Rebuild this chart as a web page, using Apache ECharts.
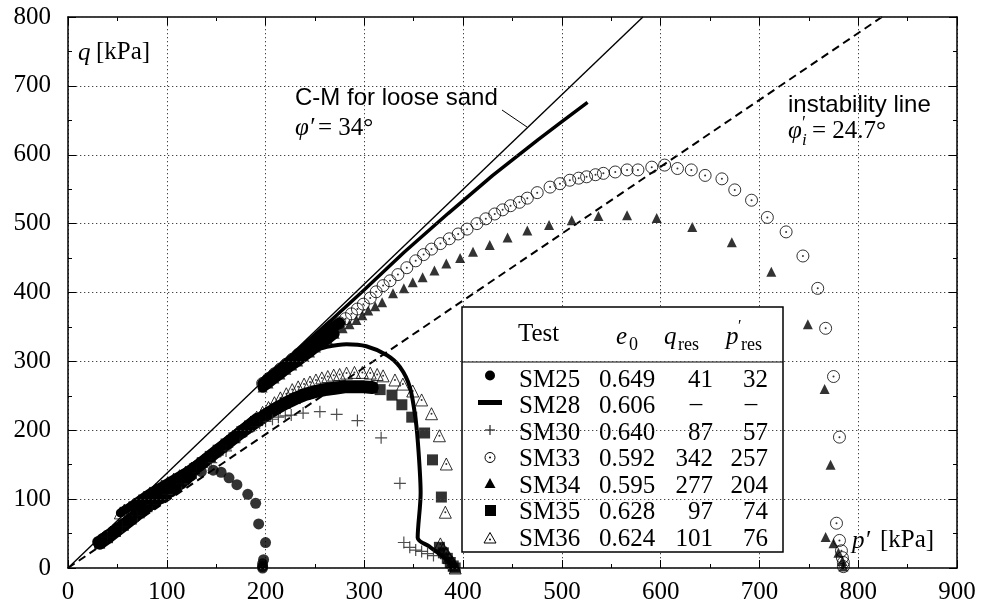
<!DOCTYPE html>
<html><head><meta charset="utf-8">
<script src="https://cdn.jsdelivr.net/npm/echarts@6/dist/echarts.min.js"></script>
<style>html,body{margin:0;padding:0;background:#fff}#c{width:981px;height:612px}</style>
</head><body><div id="c"></div><script>
// ---------------- data (p' [kPa], q [kPa]) ----------------
const xTickLabels = [0,100,200,300,400,500,600,700,800,900];
const yTickLabels = [0,100,200,300,400,500,600,700,800];
const tickStep = 100;
const cmLine   = [[0,0],[582,800]];      // C-M line, phi' = 34 deg
const instLine = [[0,0],[824,800]];      // instability line, phi_i' = 24.7 deg

// each test: measured points; the first `...dense` points overlap into a solid band in the figure
const SM25 = [[30,38],[35,43],[40,48],[45,53],[50,58],[56,64],[60,68],[65,73],[70,78],[75,83],[80,88],[85,92],[90,97],[95,101],[100,106],[105,111],[110,117],[115,122],[120,128],[125,134],[135,140],[147,142],[155,139],[163,131],[171,121],[182,107],[190,94],[193,64],[200,37],[198,12],[197,6],[197,2],[197,0]];
const SM25dense = 20;
const SM28 = [[197,270],[215,290],[230,303],[245,313],[262,321],[282,325],[302,322],[323,309],[336,292],[346,263],[352,215],[355,167],[357,109],[354,44],[366,31],[380,16],[393,0]];
const SM28b = [[197,270],[230,313],[265,358],[300,404],[340,458],[385,515],[430,570],[476,622],[500,648],[526,676]];
const SM30 = [[40,45],[55,60],[70,76],[85,92],[100,107],[115,122],[130,138],[145,153],[160,170],[174,190],[187,205],[194,210],[200,213],[207,216],[213,219],[220,221],[226,222],[238,225],[255,227],[272,223],[293,214],[317,189],[336,123],[340,37],[346,30],[352,26],[358,24],[364,21],[370,18]];
const SM33 = [[197,268],[203,275],[209,282],[215,289],[221,296],[227,303],[233,310],[239,316],[245,323],[251,330],[257,336],[263,343],[269,350],[275,356],[281,362],[287,369],[293,376],[299,383],[306,392],[312,401],[319,410],[326,417],[334,426],[343,436],[352,446],[360,455],[368,463],[377,471],[386,478],[395,485],[404,492],[414,500],[423,507],[432,514],[440,520],[448,526],[457,531],[465,537],[475,545],[488,553],[498,558],[508,563],[517,566],[525,568],[534,571],[542,573],[554,575],[566,578],[577,578],[591,582],[604,585],[617,580],[631,578],[645,570],[662,565],[675,549],[692,534],[708,509],[727,488],[744,453],[759,406],[767,348],[775,278],[781,190],[778,65],[781,40],[783,25],[784,15],[785,8],[785,2]];
const SM33dense = 14;
const SM34 = [[197,262],[203,268],[209,275],[215,281],[221,288],[227,294],[233,300],[239,307],[245,313],[251,320],[257,326],[263,332],[270,340],[278,348],[285,354],[292,360],[298,367],[304,374],[311,380],[318,386],[329,399],[340,406],[349,415],[359,422],[371,432],[383,442],[397,450],[410,459],[427,469],[445,480],[465,490],[487,498],[510,505],[537,511],[566,512],[596,508],[632,495],[672,473],[712,430],[749,354],[766,260],[772,150],[767,45],[775,36],[780,22],[784,10],[785,2]];
const SM34dense = 13;
const SM35 = [[32,36],[40,44],[48,53],[56,62],[64,71],[72,80],[80,89],[88,98],[96,107],[104,116],[112,126],[120,135],[128,144],[136,153],[144,162],[152,171],[160,180],[168,189],[176,198],[184,206],[192,214],[200,222],[210,231],[220,239],[230,246],[240,252],[250,256],[260,259],[270,261],[280,263],[290,263],[300,263],[308,262],[316,259],[328,251],[338,237],[348,219],[361,196],[369,157],[378,103],[376,30],[380,22],[384,14],[387,8],[390,3],[392,0]];
const SM35dense = 33;
const SM36 = [[53,80],[57,84],[62,88],[67,93],[72,98],[77,103],[83,109],[89,114],[95,119],[101,124],[107,129],[113,134],[119,139],[125,145],[131,151],[137,157],[143,163],[149,170],[155,177],[161,184],[167,191],[173,198],[179,205],[185,212],[191,219],[197,226],[203,233],[209,240],[215,247],[221,253],[227,259],[233,263],[239,267],[245,270],[251,273],[257,276],[263,278],[269,280],[275,281],[282,283],[290,284],[298,284],[306,283],[313,281],[319,279],[331,273],[339,267],[349,257],[358,244],[368,224],[376,192],[383,151],[382,81],[377,35],[380,28],[383,22],[386,15],[389,9],[391,4],[392,0]];
const SM36dense = 25;

// legend table content
const tableRows = [
  ['SM25','0.649','41','32'],
  ['SM28','0.606','–','–'],
  ['SM30','0.640','87','57'],
  ['SM33','0.592','342','257'],
  ['SM34','0.595','277','204'],
  ['SM35','0.628','97','74'],
  ['SM36','0.624','101','76']
];

// ---------------- chart ----------------
const SERIF = '"Liberation Serif", "DejaVu Serif", serif';
const SANS = '"Liberation Sans", Arial, sans-serif';
const chart = echarts.init(document.getElementById('c'), null, {renderer:'canvas'});
const xMax = xTickLabels[xTickLabels.length - 1], yMax = yTickLabels[yTickLabels.length - 1];

function axisCommon(showGrid) {
  return {
    type:'value', min:0, interval:tickStep,
    axisLine:{show:true, onZero:false, lineStyle:{color:'#000', width:1.5}},
    axisTick:{show:true, inside:true, length:8, lineStyle:{color:'#000', width:1}},
    minorTick:{show:true, splitNumber:2, length:4, lineStyle:{color:'#000', width:1}},
    axisLabel:{show:false},
    splitLine:{show:showGrid, lineStyle:{color:'#444', width:1, type:[1.3,2.7]}},
    minorSplitLine:{show:false}
  };
}
const xa0 = Object.assign(axisCommon(true), {max:xMax, position:'bottom', z:1});
const xa1 = Object.assign(axisCommon(false), {max:xMax, position:'top', z:1});
const ya0 = Object.assign(axisCommon(true), {max:yMax, position:'left', z:200});
const ya1 = Object.assign(axisCommon(false), {max:yMax, position:'right', z:200});

function scat(name, data, symbol, size, style, z) {
  return {name, type:'scatter', data, symbol, symbolSize:size, itemStyle:style, z:z||3, silent:true, animation:false};
}
function band(data, width, z) {
  return {type:'line', data, showSymbol:false, lineStyle:{color:'#000', width, cap:'round', join:'round'}, z:z||3, silent:true, animation:false};
}
function dots(data, z) {
  return {type:'scatter', data, symbol:'circle', symbolSize:2, itemStyle:{color:'#000'}, z:z||3, silent:true, animation:false};
}
const crossPath = 'path://M0,5L10,5M5,0L5,10';

const series = [
  {type:'line', data:cmLine, showSymbol:false, lineStyle:{color:'#000', width:1.4}, z:2, animation:false, silent:true},
  {type:'line', data:instLine, showSymbol:false, lineStyle:{color:'#000', width:2, type:[8,5]}, z:2, animation:false, silent:true},
  band(SM25.slice(0, SM25dense), 10, 3),
  scat('SM25', SM25, 'circle', 11, {color:'#000'}, 3),
  {name:'SM28', type:'line', data:SM28, showSymbol:false, smooth:0.3, lineStyle:{color:'#000', width:4}, z:4, animation:false, silent:true},
  {name:'SM28b', type:'line', data:SM28b, showSymbol:false, lineStyle:{color:'#000', width:3.5}, z:4, animation:false, silent:true},
  scat('SM30', SM30, crossPath, 12, {color:'none', borderColor:'#222', borderWidth:1.2}, 5),
  band(SM33.slice(0, SM33dense), 11, 5),
  scat('SM33', SM33, 'circle', 12, {color:'none', borderColor:'#000', borderWidth:1}, 5),
  dots(SM33, 5),
  band(SM34.slice(0, SM34dense), 10, 5),
  scat('SM34', SM34, 'triangle', 10, {color:'#000'}, 5),
  band(SM35.slice(0, SM35dense), 13, 5),
  scat('SM35', SM35, 'rect', 11, {color:'#000'}, 5),
  band(SM36.slice(0, SM36dense), 9, 5),
  scat('SM36', SM36, 'triangle', 12, {color:'none', borderColor:'#000', borderWidth:1}, 6),
  dots(SM36, 6)
];

// ---------------- text annotations & legend table ----------------
function T(x, y, text, font, align, z) {
  return {type:'text', x, y, z:z||160, silent:true,
    style:{text, font, fill:'#000', align:align||'left', verticalAlign:'middle'}};
}
const F = '25px ' + SERIF, FI = 'italic 25px ' + SERIF, FS = '18px ' + SERIF;
const g = [];
// axis titles
g.push(T(78, 53, 'q', FI), T(96, 52, '[kPa]', F));
g.push(T(852, 541, 'p′', FI), T(880, 540, '[kPa]', F));
// annotations
g.push(T(295, 98, 'C-M for loose sand', '24px ' + SANS));
g.push(T(295, 128, 'φ′', FI), T(318, 128, '= 34°', F));
g.push({type:'line', z:160, silent:true, shape:{x1:502, y1:110, x2:527, y2:127}, style:{stroke:'#000', lineWidth:1}});
g.push(T(788, 105, 'instability line', '24px ' + SANS));
g.push(T(788, 131, 'φ', FI), T(802, 124, '′', '18px ' + SERIF), T(802, 141, 'i', 'italic 17px ' + SERIF), T(812, 131, '= 24.7°', F));
// table box (white, over data)
g.push({type:'rect', z:150, silent:true, shape:{x:462, y:307, width:321, height:245}, style:{fill:'#fff', stroke:'#000', lineWidth:1.5}});
g.push({type:'line', z:151, silent:true, shape:{x1:462, y1:362, x2:783, y2:362}, style:{stroke:'#000', lineWidth:1.2}});
// header
g.push(T(518, 334, 'Test', F));
g.push(T(616, 337, 'e', FI), T(629, 345, '0', FS));
g.push(T(664, 337, 'q', FI), T(678, 345, 'res', FS));
g.push(T(726, 337, 'p', FI), T(738, 327, '′', '16px ' + SERIF), T(741, 345, 'res', FS));
// rows
tableRows.forEach((r, i) => {
  const y = 380 + i * 26.5;
  g.push(T(519, y, r[0], F));
  g.push(T(599, y, r[1], F));
  if (r[2] === '–') {
    g.push(T(696, y - 2, r[2], F, 'center'), T(751, y - 2, r[3], F, 'center'));
  } else {
    g.push(T(713, y, r[2], F, 'right'), T(768, y, r[3], F, 'right'));
  }
});
// legend symbols
const sx = 490;
g.push({type:'circle', z:160, silent:true, shape:{cx:sx, cy:375.5, r:5}, style:{fill:'#000'}});
g.push({type:'rect', z:160, silent:true, shape:{x:478, y:400, width:24, height:5}, style:{fill:'#000'}});
g.push({type:'line', z:160, silent:true, shape:{x1:485, y1:430, x2:495, y2:430}, style:{stroke:'#222', lineWidth:1.2}});
g.push({type:'line', z:160, silent:true, shape:{x1:490, y1:425, x2:490, y2:435}, style:{stroke:'#222', lineWidth:1.2}});
g.push({type:'circle', z:160, silent:true, shape:{cx:sx, cy:457.5, r:5}, style:{fill:'none', stroke:'#000', lineWidth:1}});
g.push({type:'circle', z:160, silent:true, shape:{cx:sx, cy:457.5, r:1}, style:{fill:'#000'}});
g.push({type:'polygon', z:160, silent:true, shape:{points:[[sx,478],[sx-5.5,488],[sx+5.5,488]]}, style:{fill:'#000'}});
g.push({type:'rect', z:160, silent:true, shape:{x:485, y:505, width:11, height:11}, style:{fill:'#000'}});
g.push({type:'polygon', z:160, silent:true, shape:{points:[[sx,532.5],[sx-6,543],[sx+6,543]]}, style:{fill:'none', stroke:'#000', lineWidth:1}});
g.push({type:'circle', z:160, silent:true, shape:{cx:sx, cy:539.5, r:1}, style:{fill:'#000'}});

const option = {
  animation:false,
  backgroundColor:'#fff',
  grid:{left:68, right:24, top:17, bottom:44, containLabel:false},
  xAxis:[xa0, xa1],
  yAxis:[ya0, ya1],
  series,
  graphic:g
};
chart.setOption(option);

// tick labels in serif, placed through the axes' own scales
const labels = [];
xTickLabels.forEach(v => {
  const px = chart.convertToPixel({xAxisIndex:0}, v);
  const py = chart.convertToPixel({yAxisIndex:0}, 0);
  labels.push(T(px, py + 24, String(v), F, 'center', 160));
});
yTickLabels.forEach(v => {
  const px = chart.convertToPixel({xAxisIndex:0}, 0);
  const py = chart.convertToPixel({yAxisIndex:0}, v);
  labels.push(T(px - 17, py, String(v), F, 'right', 160));
});
chart.setOption({graphic: g.concat(labels)});
</script></body></html>
